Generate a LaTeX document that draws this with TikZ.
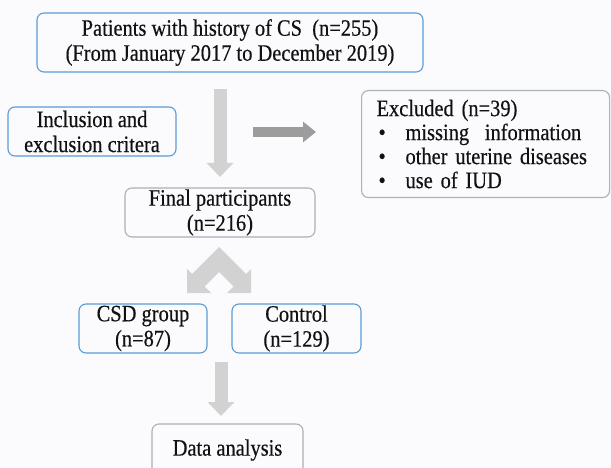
\documentclass[tikz,border=0pt]{standalone}
\usepackage{fontspec}
\setmainfont[FakeStretch=0.87,FakeBold=0.4]{Liberation Serif}
\usetikzlibrary{arrows.meta,calc}
\definecolor{bgc}{HTML}{FBFBFD}
\definecolor{bluec}{HTML}{5B9BD5}
\definecolor{greyb}{HTML}{A9B1B9}
\definecolor{arrowc}{HTML}{D2D2D2}
\definecolor{arrowd}{HTML}{9C9C9C}
\definecolor{txt}{HTML}{111111}
\newcommand\bul{\hspace*{2pt}\makebox[27pt][l]{•}}
\begin{document}
\begin{tikzpicture}[x=1pt,y=-1pt,
  box/.style={draw, rounded corners=7pt, line width=1.1pt, inner sep=0pt,
    align=center, text=txt, font=\fontsize{23.5}{25}\selectfont},
  bluebox/.style={box, draw=bluec},
  greybox/.style={box, draw=greyb},
  bigarrow/.style={draw=arrowc, line width=13pt,
    -{Triangle[width=26pt,length=14pt]}},
  sidearrow/.style={draw=arrowd, line width=10pt,
    -{Triangle[width=20pt,length=13pt]}}
]
\fill[bgc] (0,0) rectangle (611,468);
\useasboundingbox (0,0) rectangle (611,468);
\clip (0,0) rectangle (611,468);

\node[bluebox, minimum width=386pt, minimum height=59pt] (top) at (230,42.5)
  {Patients with history of CS\ \ (n=255)\\(From January 2017 to December 2019)};
\node[bluebox, minimum width=168pt, minimum height=49pt] (incl) at (92,131.5)
  {Inclusion and\\exclusion critera};
\node[greybox, anchor=north west, minimum width=248pt, minimum height=107pt,
  text width=218pt, align=left, font=\fontsize{23.5}{24}\selectfont] (excl) at (361,90)
  {Excluded (n=39)\\\bul missing\ \ information\\\bul other uterine diseases\\\bul use of IUD};
\node[greybox, minimum width=190pt, minimum height=49pt] (fin) at (220,212.5)
  {Final participants\\(n=216)};
\node[bluebox, minimum width=128pt, minimum height=49pt] (csd) at (143,328.5)
  {CSD group\\(n=87)};
\node[bluebox, minimum width=129pt, minimum height=49pt] (ctrl) at (296.5,328.5)
  {Control\\(n=129)};
\node[greybox, minimum width=151pt, minimum height=52pt] (data) at (227.5,450)
  {Data analysis};

% main down arrow
\coordinate (v1) at (220,89);
\coordinate (v2) at (220,177);
\draw[bigarrow] (v1) -- (v2);
% side arrow
\coordinate (h1) at (253,132);
\coordinate (h2) at (316,132);
\draw[sidearrow] (h1) -- (h2);
% split chevron
\fill[arrowc] (219,247) -- (192,274) -- (187,269) -- (187,293) -- (211,293)
  -- (204.5,286.5) -- (219,272) -- (233.5,286.5) -- (227,293) -- (251,293)
  -- (251,269) -- (246,274) -- cycle;
% bottom arrow
\coordinate (b1) at (221,362);
\coordinate (b2) at (221,416);
\draw[bigarrow] (b1) -- (b2);
\end{tikzpicture}
\end{document}
